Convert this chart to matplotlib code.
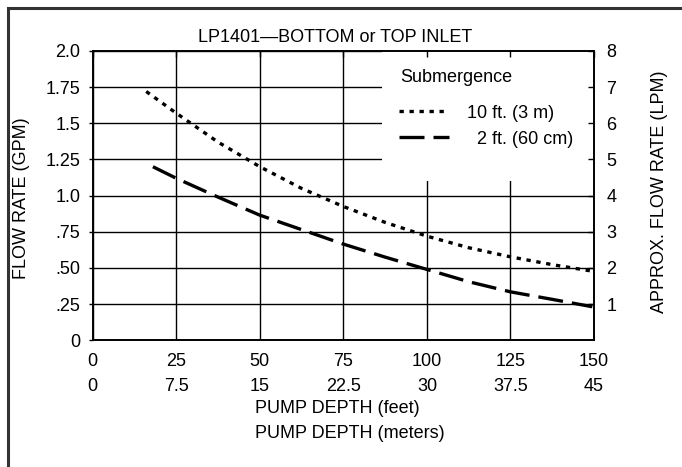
import matplotlib
matplotlib.use("Agg")
import matplotlib.pyplot as plt
from matplotlib.lines import Line2D
from matplotlib.patches import Rectangle

plt.rcParams["font.family"] = ["Liberation Sans", "DejaVu Sans"]

# curves: pump depth (ft) -> flow rate (GPM)
sub10_ft = [16, 25, 37.5, 50, 62.5, 75, 87.5, 100, 112.5, 125, 137.5, 149.5]
sub10_gpm = [1.72, 1.57, 1.37, 1.20, 1.05, 0.925, 0.815, 0.72, 0.64, 0.577, 0.523, 0.478]
sub2_ft = [18, 25, 37.5, 50, 62.5, 75, 87.5, 100, 112.5, 125, 137.5, 149.5]
sub2_gpm = [1.20, 1.12, 0.99, 0.865, 0.765, 0.665, 0.575, 0.49, 0.405, 0.335, 0.283, 0.232]

feet_ticks = [0, 25, 50, 75, 100, 125, 150]
meter_labels = ["0", "7.5", "15", "22.5", "30", "37.5", "45"]
gpm_ticks = [0, 0.25, 0.5, 0.75, 1.0, 1.25, 1.5, 1.75, 2.0]
gpm_labels = ["0", ".25", ".50", ".75", "1.0", "1.25", "1.5", "1.75", "2.0"]
lpm_ticks = [1, 2, 3, 4, 5, 6, 7, 8]

FS = 13

fig = plt.figure(figsize=(6.82, 4.67), dpi=100)
ax = fig.add_axes([0.136, 0.2713, 0.735, 0.6195])
ax.set_xlim(0, 150)
ax.set_ylim(0, 2)
ax.set_xticks(feet_ticks)
ax.set_xticklabels([f"{f}\n{m}" for f, m in zip(feet_ticks, meter_labels)], linespacing=1.6)
ax.set_yticks(gpm_ticks, gpm_labels)
ax.set_axisbelow(True)
ax.grid(True, color="black", lw=1.0)
ax.tick_params(axis="x", length=0, pad=9, labelsize=FS)
ax.tick_params(axis="y", length=3, width=1.0, pad=6, labelsize=FS)
for s in ax.spines.values():
    s.set_linewidth(1.2)

# white box behind the legend hides the grid there
ax.add_patch(Rectangle((86.7, 1.104), 63.3, 0.896, facecolor="white",
                       edgecolor="none", zorder=1))

ax.plot(sub10_ft, sub10_gpm, color="black", lw=2.4, ls=(0, (1.3, 1.7)),
        dash_capstyle="butt", zorder=2, label="10 ft. (3 m)")
ax.plot(sub2_ft, sub2_gpm, color="black", lw=2.4, ls=(0, (7.5, 2.7)),
        dash_capstyle="butt", zorder=2, label="  2 ft. (60 cm)")

ax.text(0.613, 0.91, "Submergence", transform=ax.transAxes, ha="left",
        va="center", fontsize=FS, zorder=3)
ax.legend(loc="upper left", bbox_to_anchor=(0.61, 0.815), frameon=False,
          fontsize=FS, handlelength=2.8, handletextpad=1.0, labelspacing=0.5,
          borderpad=0, borderaxespad=0)

ax2 = ax.twinx()
ax2.set_ylim(0, 8)
ax2.set_yticks(lpm_ticks)
ax2.tick_params(axis="y", direction="in", length=4, width=1.0, pad=9, labelsize=FS)
ax2.xaxis.set_visible(True)
ax2.tick_params(axis="x", bottom=False, top=True, labelbottom=False, labeltop=False,
                direction="in", length=4, width=1.0)
for s in ax2.spines.values():
    s.set_linewidth(1.2)

fig.text(335 / 682, 1 - 37 / 467, "LP1401\u2014BOTTOM or TOP INLET",
         ha="center", va="center", fontsize=FS)
fig.text(22 / 682, 1 - 198 / 467, "FLOW RATE (GPM)", rotation=90,
         ha="center", va="center", fontsize=FS)
fig.text(660 / 682, 1 - 192 / 467, "APPROX. FLOW RATE (LPM)", rotation=90,
         ha="center", va="center", fontsize=FS)
fig.text(255 / 682, 1 - 421 / 467, "PUMP DEPTH (feet)\nPUMP DEPTH (meters)",
         ha="left", va="center", fontsize=FS, linespacing=1.6)

# outer frame (top and left edges only)
fig.add_artist(Line2D([8 / 682, 1], [1 - 8 / 467] * 2, transform=fig.transFigure,
                      color="#333333", lw=2.2))
fig.add_artist(Line2D([8 / 682] * 2, [0, 1 - 8 / 467], transform=fig.transFigure,
                      color="#333333", lw=2.2))

fig.savefig("out.png", dpi=100)
